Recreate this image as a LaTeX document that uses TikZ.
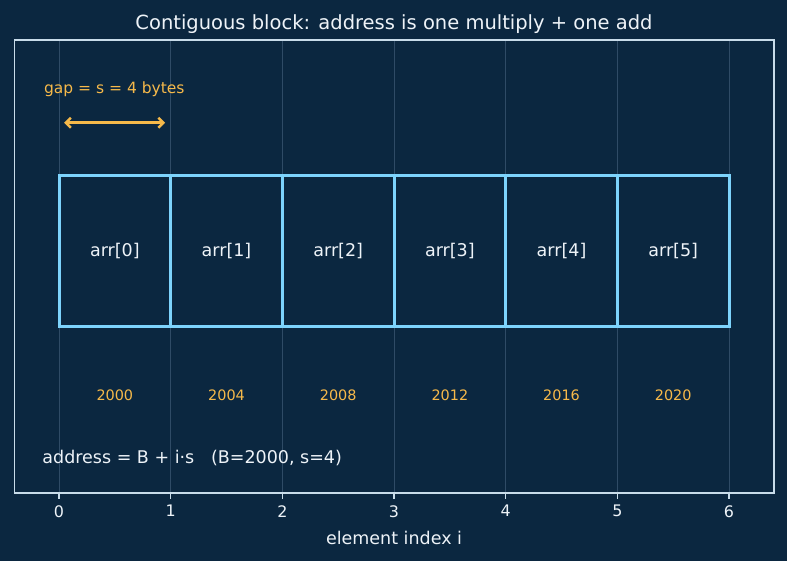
\documentclass[tikz,border=0pt]{standalone}
\usepackage{fontspec}
\setmainfont{DejaVu Sans}
\usepackage{tikz}
\usetikzlibrary{arrows.meta}
\tikzset{>={Straight Barb[length=5pt,width=10pt]}}
\usepackage{xcolor}
\definecolor{bgnavy}{HTML}{0B2740}
\definecolor{cellblue}{HTML}{7DD3FC}
\definecolor{addrorange}{HTML}{F6B94A}
\definecolor{inkwhite}{HTML}{EEF3F8}
\definecolor{framegray}{HTML}{C8DCEA}
\definecolor{gridgray}{HTML}{2F4B66}

\begin{document}
\begin{tikzpicture}[x=111.67pt,y=151pt,
    cell/.style={draw=cellblue,line width=3pt,inner sep=0pt,
      minimum width=111.67pt,minimum height=151pt,text=inkwhite,
      font=\fontsize{17.5}{20}\selectfont},
    addr/.style={text=addrorange,inner sep=0pt,font=\fontsize{14.4}{17}\selectfont},
    frame/.style={draw=framegray,line width=1.6pt}]

        \def\cell#1{\node[cell] (c#1) at (#1+0.5,0.5) {arr[#1]};}
        \def\addr#1#2{\node[addr] (a#1) at (#1+0.5,-0.45) {#2};}
        \def\xtick#1{\draw[framegray,line width=1.6pt] (#1,-1.1) --++ (0,-5.6pt)
          node[below=6pt,inner sep=0pt,text=inkwhite,font=\fontsize{15.9}{18}\selectfont] (t#1) {#1};}

        % BACKGROUND
        \fill[bgnavy] (-0.5284,-1.5503) rectangle (6.5192,2.1649);
        \useasboundingbox (-0.5284,-1.5503) rectangle (6.5192,2.1649);

        % COORDINATES
        \coordinate (gapL) at (0.045,1.352);
        \coordinate (gapR) at (0.95,1.352);

        % GRID
        \foreach \i in {0,...,6} {\draw[gridgray,line width=0.9pt] (\i,-1.1) -- (\i,1.9);}

        % CELLS
        \cell{0}
        \cell{1}
        \cell{2}
        \cell{3}
        \cell{4}
        \cell{5}

        % ADDRESSES
        \addr{0}{2000}
        \addr{1}{2004}
        \addr{2}{2008}
        \addr{3}{2012}
        \addr{4}{2016}
        \addr{5}{2020}

        % GAP
        \node[anchor=base west,inner sep=0pt,text=addrorange,font=\fontsize{15.5}{18}\selectfont] (gap) at (-0.135,1.547) {gap = s = 4 bytes};
        \draw[<->,addrorange,line width=2.5pt] (gapL) -- (gapR);

        % FORMULA
        \node[anchor=base west,inner sep=0pt,text=inkwhite,font=\fontsize{17.5}{20}\selectfont] (formula) at (-0.15,-0.903) {address = B + i·s\ \ \ (B=2000, s=4)};

        % AXES
        \draw[frame] (-0.4,-1.1) rectangle (6.4,1.9);
        \xtick{0}
        \xtick{1}
        \xtick{2}
        \xtick{3}
        \xtick{4}
        \xtick{5}
        \xtick{6}
        \node[anchor=base,inner sep=0pt,text=inkwhite,font=\fontsize{17.5}{20}\selectfont] (xlabel) at (3,-1.44) {element index i};
        \node[anchor=base,inner sep=0pt,text=inkwhite,font=\fontsize{19.5}{22}\selectfont] (title) at (3,1.971) {Contiguous block: address is one multiply + one add};

    \end{tikzpicture}
\end{document}
